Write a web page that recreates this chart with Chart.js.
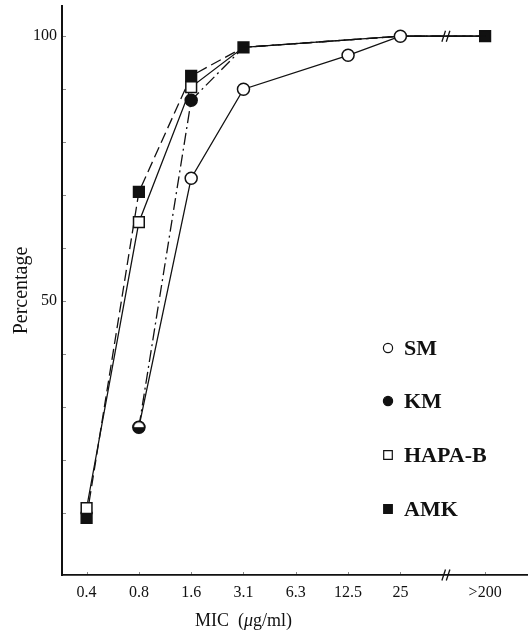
<!DOCTYPE html>
<html>
<head>
<meta charset="utf-8">
<script src="https://cdn.jsdelivr.net/npm/chart.js@4/dist/chart.umd.min.js"></script>
<style>
  html, body { margin: 0; padding: 0; background: #fff; }
  #wrap { width: 528px; height: 636px; }
</style>
</head>
<body>
<div id="wrap"><canvas id="c" width="528" height="636"></canvas></div>
<script>
// MIC categories and their slots along the axis (the last one sits past the axis break)
const doseLabels = ['0.4', '0.8', '1.6', '3.1', '6.3', '12.5', '25', '>200'];
const doseSlots  = [0, 1, 2, 3, 4, 5, 6, 7.62];
const breakSlot  = 6.87;

// cumulative percentage of strains inhibited
const seriesNames = ['SM', 'KM', 'HAPA-B', 'AMK'];
const smValues   = [null, 26.2, 73.2, 90.0, null, 96.4, 100, 100];
const kmValues   = [null, 26.2, 87.9, 97.9, null, null, 100, 100];
const hapaValues = [10.9, 64.9, 90.4, 97.9, null, null, 100, 100];
const amkValues  = [9.1, 70.6, 92.5, 97.9, null, null, 100, 100];

const yLabelTicks = [50, 100];
const yMinorTicks = [10, 20, 30, 40, 50, 60, 70, 80, 90, 100];

const SERIF = "'Liberation Serif', 'DejaVu Serif', serif";
const INK = '#111';

function toPoints(values) {
  return values.map((v, i) => ({ x: doseSlots[i], y: v }));
}

// circle marker with the lower half filled (SM and KM coincide)
function halfDisc(r) {
  const s = Math.ceil(2 * r + 4);
  const c = document.createElement('canvas');
  c.width = s; c.height = s;
  const g = c.getContext('2d');
  const m = s / 2;
  g.beginPath(); g.arc(m, m, r, 0, 2 * Math.PI); g.fillStyle = '#fff'; g.fill();
  g.beginPath(); g.arc(m, m, r, 0, Math.PI); g.closePath(); g.fillStyle = INK; g.fill();
  g.beginPath(); g.arc(m, m, r, 0, 2 * Math.PI); g.lineWidth = 1.5; g.strokeStyle = INK; g.stroke();
  return c;
}
const halfMarker = halfDisc(5.6);

const hideAt = (list, r) => ctx => list.includes(ctx.dataIndex) ? 0 : r;

const datasets = [
  {
    label: seriesNames[0], data: toPoints(smValues), order: 0,
    borderColor: INK, borderWidth: 1.3,
    pointStyle: ctx => ctx.dataIndex === 1 ? halfMarker : 'circle',
    pointRadius: hideAt([7], 6), pointBorderWidth: 1.5,
    pointBackgroundColor: '#fff', pointBorderColor: INK
  },
  {
    label: seriesNames[1], data: toPoints(kmValues), order: 3,
    borderColor: INK, borderWidth: 1.3, borderDash: [12, 4, 2, 4],
    pointStyle: 'circle', pointRadius: hideAt([3, 6, 7], 6), pointBorderWidth: 1.5,
    pointBackgroundColor: INK, pointBorderColor: INK
  },
  {
    label: seriesNames[2], data: toPoints(hapaValues), order: 1,
    borderColor: INK, borderWidth: 1.3,
    pointStyle: 'rect', pointRadius: hideAt([3, 6, 7], 7.6), pointBorderWidth: 1.5,
    pointBackgroundColor: '#fff', pointBorderColor: INK
  },
  {
    label: seriesNames[3], data: toPoints(amkValues), order: 2,
    borderColor: INK, borderWidth: 1.3, borderDash: [11, 5],
    pointStyle: 'rect', pointRadius: hideAt([6], 7.6), pointBorderWidth: 1.5,
    pointBackgroundColor: INK, pointBorderColor: INK
  }
];

// small inner ticks, axis breaks, x title and in-plot key
const decorations = {
  id: 'decorations',
  afterDraw(chart) {
    const { ctx, chartArea: a, scales: { x, y } } = chart;
    ctx.save();

    ctx.strokeStyle = '#888';
    ctx.lineWidth = 1;
    yMinorTicks.forEach(v => {
      const py = Math.round(y.getPixelForValue(v)) + 0.5;
      ctx.beginPath(); ctx.moveTo(a.left + 1, py); ctx.lineTo(a.left + 4, py); ctx.stroke();
    });
    doseSlots.forEach(v => {
      const px = Math.round(x.getPixelForValue(v)) + 0.5;
      ctx.beginPath(); ctx.moveTo(px, a.bottom - 1); ctx.lineTo(px, a.bottom - 3); ctx.stroke();
    });

    // break symbol on the axis and on the 100 % line
    const bx = x.getPixelForValue(breakSlot);
    [a.bottom, y.getPixelForValue(100)].forEach(by => {
      ctx.strokeStyle = INK;
      ctx.lineWidth = 1.3;
      [-2.2, 2.2].forEach(dx => {
        ctx.beginPath();
        ctx.moveTo(bx + dx - 1.8, by + 5.5);
        ctx.lineTo(bx + dx + 1.8, by - 5.5);
        ctx.stroke();
      });
    });

    // x axis title, centred under the regular dilution steps; the mu is set in italic
    ctx.fillStyle = INK;
    ctx.textBaseline = 'middle';
    ctx.textAlign = 'left';
    const parts = [
      ['MIC  (', '18px ' + SERIF],
      ['\u03bc', 'italic 18px ' + SERIF],
      ['g/ml)', '18px ' + SERIF]
    ];
    let total = 0;
    parts.forEach(([t, f]) => { ctx.font = f; total += ctx.measureText(t).width; });
    let tx = (x.getPixelForValue(doseSlots[0]) + x.getPixelForValue(doseSlots[6])) / 2 - total / 2;
    parts.forEach(([t, f]) => { ctx.font = f; ctx.fillText(t, tx, 621); tx += ctx.measureText(t).width; });

    // key
    const keyX = a.left + 326;
    const keyY = [348, 401, 455, 509];
    datasets.forEach((ds, i) => {
      const cy = keyY[i];
      ctx.lineWidth = 1.2;
      ctx.strokeStyle = INK;
      ctx.fillStyle = ds.pointBackgroundColor;
      ctx.beginPath();
      if (i < 2) {
        ctx.arc(keyX, cy, 4.6, 0, 2 * Math.PI);
      } else {
        ctx.rect(keyX - 4.3, cy - 4.3, 8.6, 8.6);
      }
      ctx.fill(); ctx.stroke();
      ctx.fillStyle = INK;
      ctx.font = 'bold 22px ' + SERIF;
      ctx.textAlign = 'left';
      ctx.textBaseline = 'middle';
      ctx.fillText(ds.label, keyX + 16, cy + 1);
    });

    ctx.restore();
  }
};

new Chart(document.getElementById('c'), {
  type: 'line',
  data: { datasets },
  options: {
    responsive: false,
    animation: false,
    devicePixelRatio: 1,
    spanGaps: true,
    layout: { autoPadding: false, padding: { top: 6, right: 0, left: 0, bottom: 0 } },
    plugins: { legend: { display: false }, tooltip: { enabled: false } },
    scales: {
      x: {
        type: 'linear', min: -0.47, max: 8.44,
        afterBuildTicks: s => { s.ticks = doseSlots.map(v => ({ value: v })); },
        afterFit: s => { s.height = 61; s.paddingLeft = 0; s.paddingRight = 0; },
        grid: { display: false, drawTicks: false },
        border: { display: true, color: INK, width: 1.8 },
        ticks: {
          autoSkip: false, maxRotation: 0, padding: 8, color: INK,
          font: { family: SERIF, size: 16 },
          callback: (v, i) => doseLabels[i]
        }
      },
      y: {
        type: 'linear', min: -1.7, max: 105.7,
        afterBuildTicks: s => { s.ticks = yLabelTicks.map(v => ({ value: v })); },
        afterFit: s => { s.width = 62; s.paddingTop = 0; s.paddingBottom = 0; },
        grid: { display: false, drawTicks: false },
        border: { display: true, color: INK, width: 2 },
        ticks: { padding: 5, color: INK, font: { family: SERIF, size: 16 } },
        title: {
          display: true, text: 'Percentage', color: INK,
          font: { family: SERIF, size: 20 }, padding: { top: 10, bottom: 0 }
        }
      }
    }
  },
  plugins: [decorations]
});
</script>
</body>
</html>
